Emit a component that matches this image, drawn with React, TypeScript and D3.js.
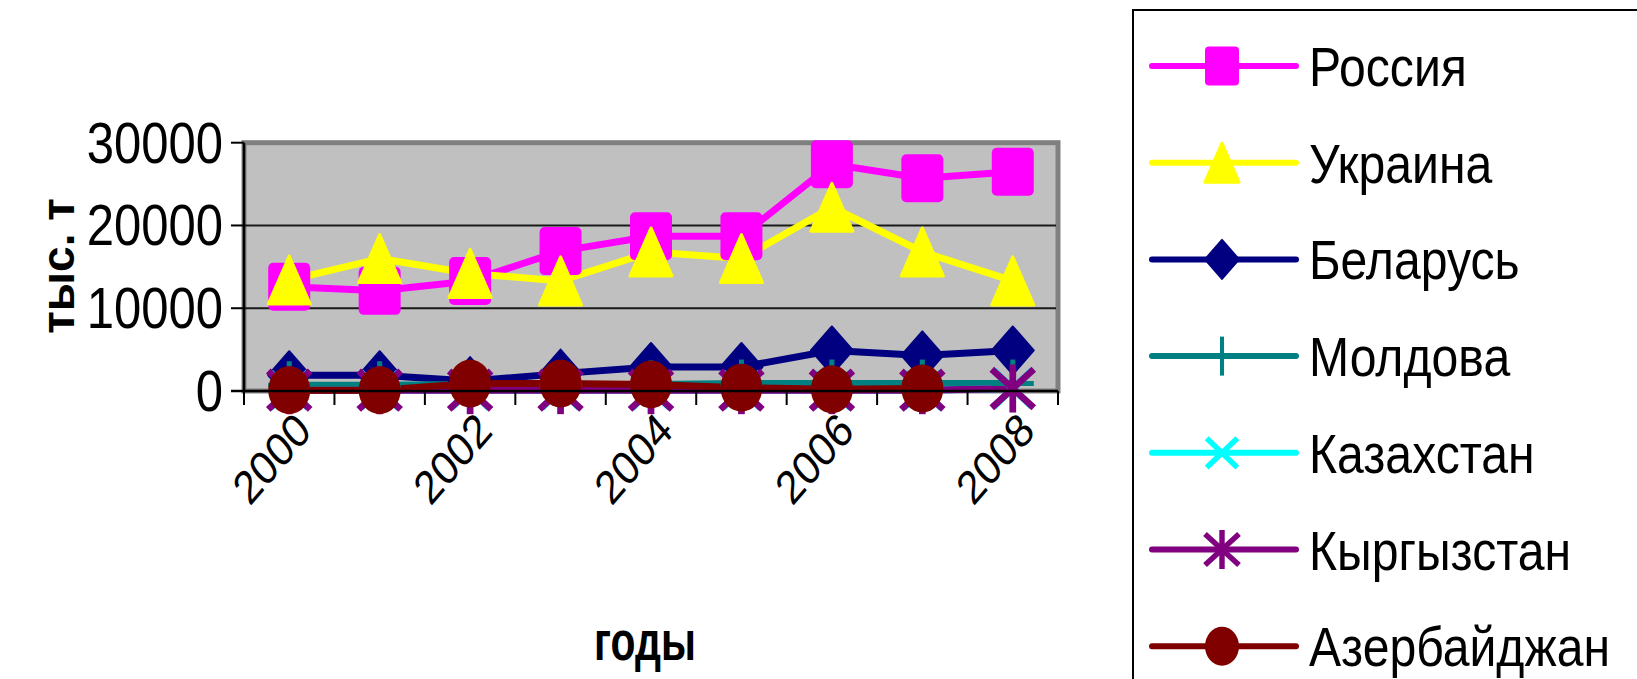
import React from 'react';
import * as d3 from 'd3';

const years = ['2000', '2001', '2002', '2003', '2004', '2005', '2006', '2007', '2008'];
const xTickLabels = ['2000', '2002', '2004', '2006', '2008'];
const yTicks = [0, 10000, 20000, 30000];

const russia = [12600, 12100, 13300, 16900, 18700, 18700, 27400, 25700, 26500];
const ukraine = [13400, 16000, 14200, 13300, 16800, 16000, 22200, 16800, 13300];
const belarus = [1900, 1900, 1200, 2100, 2900, 2900, 4900, 4300, 4900];
const moldova = [700, 700, 800, 800, 800, 900, 900, 900, 900];
const kazakhstan = [100, 100, 100, 100, 100, 100, 100, 100, 300];
const kyrgyzstan = [100, 100, 100, 100, 100, 100, 100, 100, 300];
const azerbaijan: (number | null)[] = [100, 100, 900, 900, 800, 400, 200, 300, null];

const seriesNames = ['Россия', 'Украина', 'Беларусь', 'Молдова', 'Казахстан', 'Кыргызстан', 'Азербайджан'];
const seriesColors = ['#FF00FF', '#FFFF00', '#000080', '#008080', '#00FFFF', '#800080', '#800000'];
const seriesMarkers = ['square', 'triangle', 'diamond', 'plus', 'x', 'star', 'circle'];
const seriesValues: (number | null)[][] = [russia, ukraine, belarus, moldova, kazakhstan, kyrgyzstan, azerbaijan];

const FONT = 'Arial, "Liberation Sans", Helvetica, sans-serif';

function Marker({ type, cx, cy, w, h, color }: { type: string; cx: number; cy: number; w: number; h: number; color: string }) {
  const hw = w / 2;
  const hh = h / 2;
  switch (type) {
    case 'square':
      return <rect x={cx - hw} y={cy - hh} width={w} height={h} rx={w * 0.12} fill={color} />;
    case 'triangle':
      return (
        <path
          d={`M${cx},${cy - hh} L${cx + hw},${cy + hh} L${cx - hw},${cy + hh} Z`}
          fill={color}
          stroke={color}
          strokeWidth={3}
          strokeLinejoin="round"
        />
      );
    case 'diamond':
      return (
        <path
          d={`M${cx},${cy - hh} L${cx + hw},${cy} L${cx},${cy + hh} L${cx - hw},${cy} Z`}
          fill={color}
          stroke={color}
          strokeWidth={2}
          strokeLinejoin="round"
        />
      );
    case 'plus':
      return (
        <g stroke={color} strokeWidth={w * 0.12}>
          <line x1={cx} y1={cy - hh} x2={cx} y2={cy + hh} />
          <line x1={cx - hw} y1={cy} x2={cx + hw} y2={cy} />
        </g>
      );
    case 'x':
      return (
        <g stroke={color} strokeWidth={w * 0.16}>
          <line x1={cx - hw * 0.9} y1={cy - hh * 0.75} x2={cx + hw * 0.9} y2={cy + hh * 0.75} />
          <line x1={cx - hw * 0.9} y1={cy + hh * 0.75} x2={cx + hw * 0.9} y2={cy - hh * 0.75} />
        </g>
      );
    case 'star':
      return (
        <g stroke={color} strokeWidth={w * 0.16}>
          <line x1={cx - hw} y1={cy - hh * 0.8} x2={cx + hw} y2={cy + hh * 0.8} />
          <line x1={cx - hw} y1={cy + hh * 0.8} x2={cx + hw} y2={cy - hh * 0.8} />
          <line x1={cx} y1={cy - hh} x2={cx} y2={cy + hh} />
        </g>
      );
    case 'circle':
    default:
      return <ellipse cx={cx} cy={cy} rx={hw} ry={hh} fill={color} />;
  }
}

export default function App() {
  const W = 1637;
  const H = 679;
  const plotLeft = 244;
  const plotRight = 1058;
  const plotTop = 142.7;
  const plotBottom = 391;

  const x = d3.scaleBand<string>().domain(years).range([plotLeft, plotRight]).paddingInner(0).paddingOuter(0);
  const y = d3.scaleLinear().domain([0, 30000]).range([plotBottom, plotTop]);
  const cx = (yr: string) => (x(yr) as number) + x.bandwidth() / 2;

  const line = d3
    .line<{ yr: string; v: number | null }>()
    .defined((d) => d.v !== null)
    .x((d) => cx(d.yr))
    .y((d) => y(d.v as number));

  const boundaries = d3.range(years.length + 1).map((i) => plotLeft + i * x.bandwidth());

  const legendX = 1133;
  const legendY = 10;
  const legendRow0 = 66;
  const legendStep = 96.7;

  return (
    <svg
      width={W}
      height={H}
      style={{ position: 'fixed', left: 0, top: 0, background: '#fff' }}
      fontFamily={FONT}
    >
      <rect x={0} y={0} width={W} height={H} fill="#fff" />

      {/* plot area */}
      <rect
        x={plotLeft}
        y={plotTop}
        width={plotRight - plotLeft}
        height={plotBottom - plotTop}
        fill="#C0C0C0"
        stroke="#808080"
        strokeWidth={5}
      />
      {yTicks
        .filter((t) => t > 0 && t < 30000)
        .map((t) => (
          <line key={`g${t}`} x1={plotLeft} x2={plotRight - 2} y1={y(t)} y2={y(t)} stroke="#1a1a1a" strokeWidth={2} />
        ))}

      {seriesValues.map((vals, si) => (
        <path
          key={`l${si}`}
          d={line(years.map((yr, i) => ({ yr, v: vals[i] }))) || ''}
          fill="none"
          stroke={seriesColors[si]}
          strokeWidth={7}
          strokeLinejoin="round"
        />
      ))}
      {seriesValues.map((vals, si) => (
        <g key={`m${si}`}>
          {years.map((yr, i) =>
            vals[i] === null ? null : (
              <Marker
                key={yr}
                type={seriesMarkers[si]}
                cx={cx(yr)}
                cy={y(vals[i] as number)}
                w={42}
                h={48}
                color={seriesColors[si]}
              />
            )
          )}
        </g>
      ))}

      {/* axes */}
      <line x1={plotLeft} x2={plotLeft} y1={plotTop} y2={plotBottom} stroke="#000" strokeWidth={2.5} />
      <line x1={231} x2={plotRight} y1={plotBottom} y2={plotBottom} stroke="#000" strokeWidth={2.5} />
      {yTicks.map((t) => (
        <line key={`yt${t}`} x1={231} x2={plotLeft} y1={y(t)} y2={y(t)} stroke="#000" strokeWidth={2} />
      ))}
      {boundaries.map((bx, i) => (
        <line key={`xt${i}`} x1={bx} x2={bx} y1={plotBottom} y2={plotBottom + 14} stroke="#000" strokeWidth={2} />
      ))}

      {yTicks.map((t) => (
        <g key={`yl${t}`} transform={`translate(223,${y(t) + 20}) scale(0.845,1)`}>
          <text textAnchor="end" fontSize={58} fill="#000">
            {String(t)}
          </text>
        </g>
      ))}

      {xTickLabels.map((lab) => (
        <g key={`xl${lab}`} transform={`translate(${cx(lab) + 24},${plotBottom + 42}) scale(0.86,1) rotate(-45)`}>
          <text textAnchor="end" fontSize={47} fill="#000">
            {lab}
          </text>
        </g>
      ))}

      <g transform={`translate(74,266) rotate(-90)`}>
        <text textAnchor="middle" fontSize={46} fontWeight="bold" fill="#000">
          тыс. т
        </text>
      </g>
      <g transform={`translate(645,660) scale(0.73,1)`}>
        <text textAnchor="middle" fontSize={56} fontWeight="bold" fill="#000">
          годы
        </text>
      </g>

      {/* legend */}
      <rect x={legendX} y={legendY} width={700} height={800} fill="#fff" stroke="#000" strokeWidth={2} />
      {seriesNames.map((name, si) => {
        const ly = legendRow0 + si * legendStep;
        return (
          <g key={`lg${si}`}>
            <line x1={1152} x2={1296} y1={ly} y2={ly} stroke={seriesColors[si]} strokeWidth={6} strokeLinecap="round" />
            <Marker type={seriesMarkers[si]} cx={1222} cy={ly} w={34} h={39} color={seriesColors[si]} />
            <g transform={`translate(1309,${ly + 20}) scale(0.86,1)`}>
              <text fontSize={56} fill="#000">
                {name}
              </text>
            </g>
          </g>
        );
      })}
    </svg>
  );
}
